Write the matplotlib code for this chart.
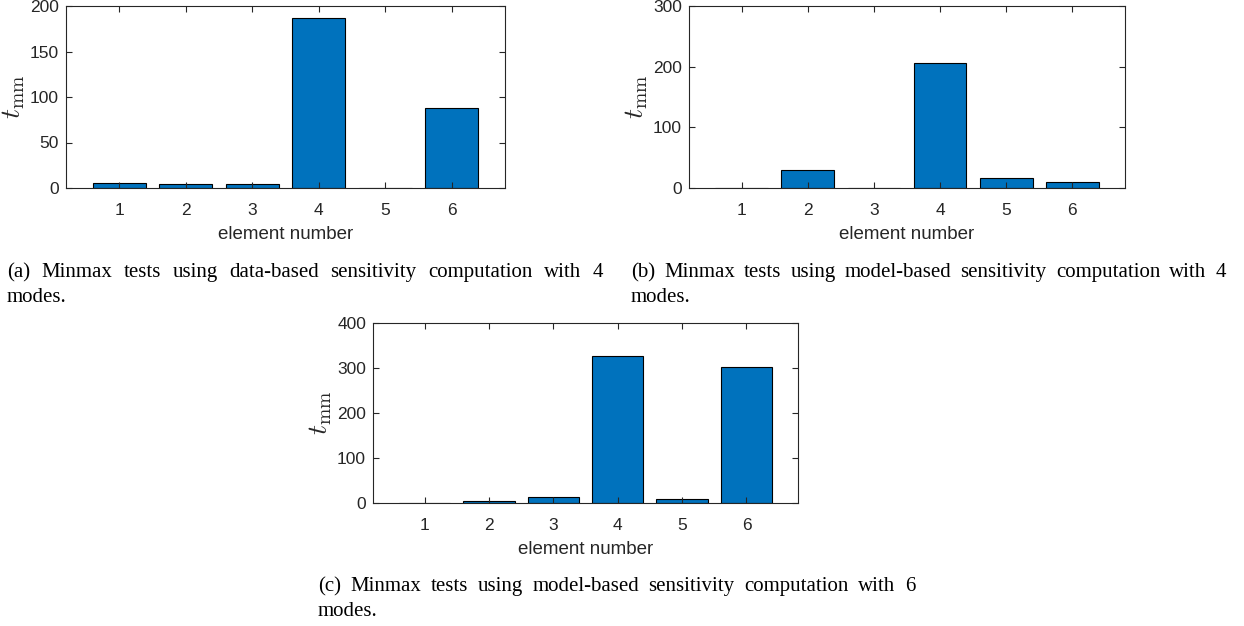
import matplotlib
matplotlib.use("Agg")
import matplotlib.pyplot as plt
import numpy as np

elements = [1, 2, 3, 4, 5, 6]
tmm_a = [6, 4, 4.5, 187, 0.5, 88]
tmm_b = [0.5, 29, 0.5, 206, 16, 9.5]
tmm_c = [0.5, 4.5, 14, 327, 9, 303]
ylims = [200, 300, 400]
yticks = [[0, 50, 100, 150, 200], [0, 100, 200, 300], [0, 100, 200, 300, 400]]
captions = [
    "(a) Minmax tests using data-based sensitivity computation with 4",
    "(b) Minmax tests using model-based sensitivity computation with 4",
    "(c) Minmax tests using model-based sensitivity computation with 6",
]

plt.rcParams['mathtext.fontset'] = 'cm'
W, H = 1244, 626
fig = plt.figure(figsize=(W / 100, H / 100), dpi=100)

axcol = '#262626'
barcol = '#0072BD'

def px_axes(l, t, r, b):
    return fig.add_axes([l / W, 1 - b / H, (r - l) / W, (b - t) / H])

boxes = [(66, 6, 505, 188), (689, 6, 1125, 188), (373, 323, 798, 503)]
datas = [tmm_a, tmm_b, tmm_c]
for box, data, yl, yt in zip(boxes, datas, ylims, yticks):
    ax = px_axes(*box)
    ax.bar(elements, data, width=0.8, color=barcol, edgecolor='black', linewidth=0.8)
    ax.set_xlim(0.2, 6.8)
    ax.set_ylim(0, yl)
    ax.set_xticks(elements)
    ax.set_yticks(yt)
    ax.tick_params(direction='in', top=True, right=True, length=4, width=0.8,
                   colors=axcol, labelsize=12.5)
    ax.tick_params(axis='x', pad=10.5)
    ax.tick_params(axis='y', pad=5)
    for lab in ax.get_xticklabels() + ax.get_yticklabels():
        lab.set_fontfamily('Liberation Sans')
        lab.set_color(axcol)
    for s in ax.spines.values():
        s.set_color(axcol)
        s.set_linewidth(0.8)
    ax.set_xlabel('element number', fontfamily='Liberation Sans', fontsize=13.5,
                  color=axcol, labelpad=6)
    ax.set_ylabel(r'$t_{\rm mm}$', fontsize=20, color=axcol, labelpad=2)

fig.canvas.draw()
renderer = fig.canvas.get_renderer()

CAP_SIZE = 15

def justified(text, x0, x1, y, size=CAP_SIZE):
    words = text.split(' ')
    objs = [fig.text(0, 1 - y / H, w, fontfamily='Liberation Serif', fontsize=size,
                     va='baseline', ha='left') for w in words]
    widths = [o.get_window_extent(renderer).width for o in objs]
    gap = ((x1 - x0) - sum(widths)) / (len(words) - 1)
    x = x0
    for o, w in zip(objs, widths):
        o.set_x(x / W)
        x += w + gap

def plain(text, x0, y, size=CAP_SIZE):
    fig.text(x0 / W, 1 - y / H, text, fontfamily='Liberation Serif', fontsize=size,
             va='baseline', ha='left')

cap_pos = [(7, 603, 277, 302), (631, 1226, 277, 302), (318, 915, 591, 616)]
for cap, (x0, x1, y1, y2) in zip(captions, cap_pos):
    justified(cap, x0, x1, y1)
    plain("modes.", x0, y2)

fig.savefig('out.png', dpi=100)
